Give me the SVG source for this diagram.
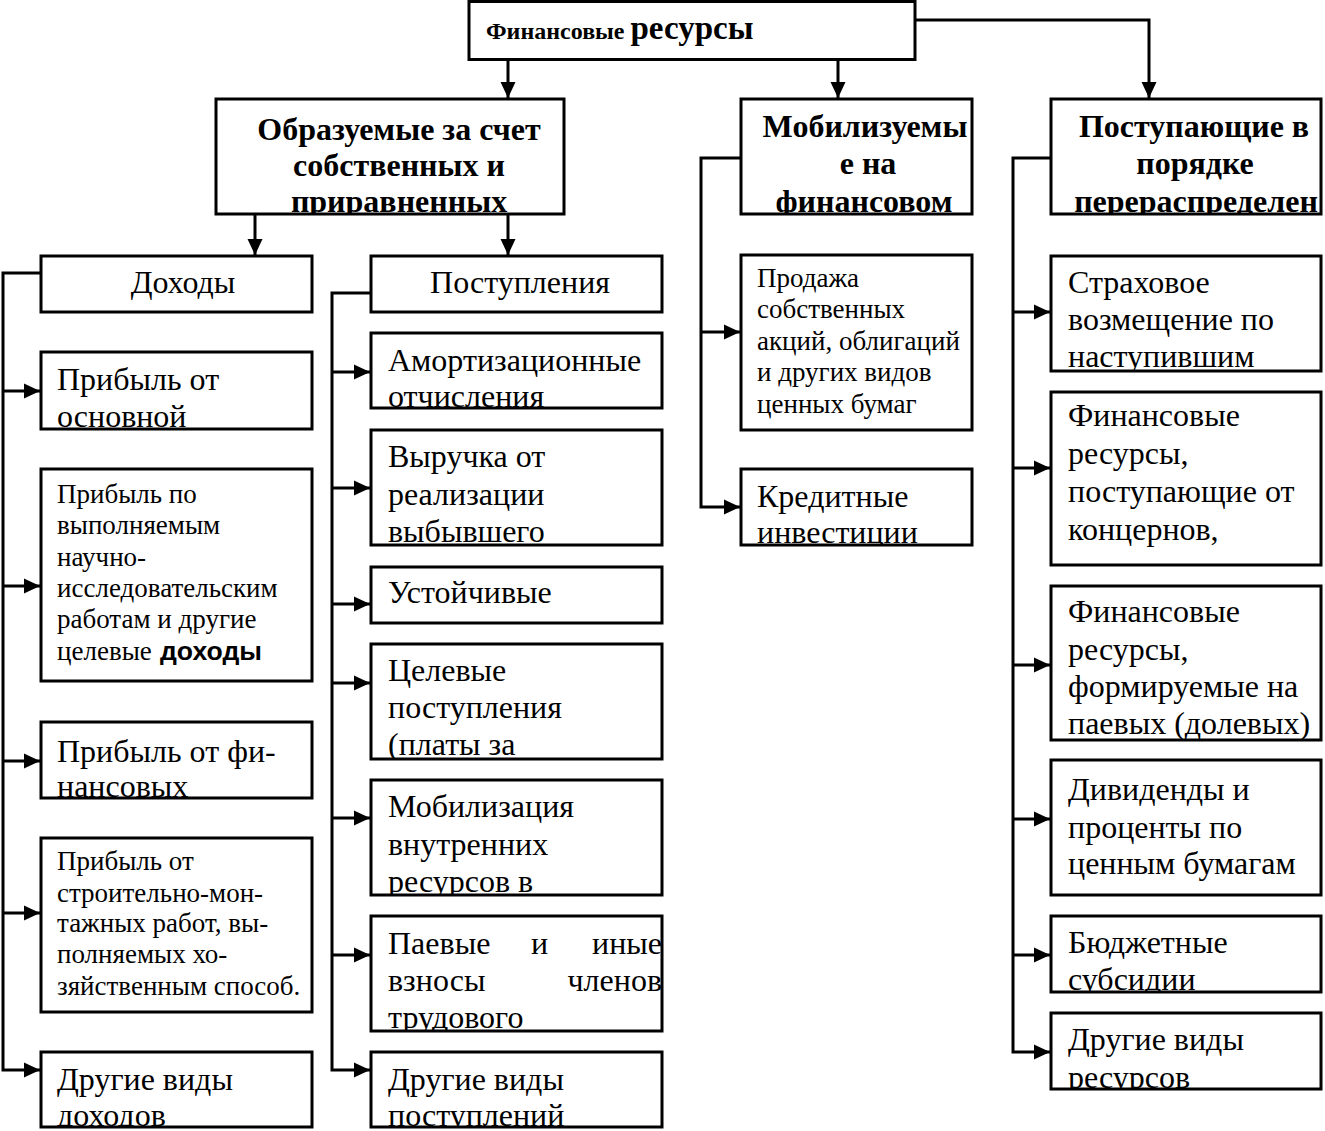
<svg xmlns="http://www.w3.org/2000/svg" width="1325" height="1131" viewBox="0 0 1325 1131">
<style>
.box{fill:#fff;stroke:#000;stroke-width:3}
.t{font-family:"Liberation Serif","Times New Roman",serif;font-size:32px;fill:#000}
.b{font-weight:bold}
.s{font-size:27px}
.xs{font-size:27px}
.m{text-anchor:middle}
.e{text-anchor:end}
.c{stroke:#000;stroke-width:3;fill:none}
</style>
<defs>
<marker id="ah" markerUnits="userSpaceOnUse" markerWidth="16" markerHeight="16" viewBox="0 0 16 16" refX="16" refY="8" orient="auto"><path d="M0,0.5 L16,8 L0,15.5 z" fill="#000"/></marker>
<clipPath id="cA"><rect x="216" y="99" width="348" height="115"/></clipPath>
<clipPath id="cB"><rect x="741" y="99" width="231" height="115"/></clipPath>
<clipPath id="cC"><rect x="1051" y="99" width="270" height="115"/></clipPath>
<clipPath id="cL1"><rect x="41" y="352" width="271" height="77"/></clipPath>
<clipPath id="cL3"><rect x="41" y="722" width="271" height="76"/></clipPath>
<clipPath id="cL5"><rect x="41" y="1052" width="271" height="75"/></clipPath>
<clipPath id="cM1"><rect x="371" y="333" width="291" height="75"/></clipPath>
<clipPath id="cM2"><rect x="371" y="430" width="291" height="115"/></clipPath>
<clipPath id="cM4"><rect x="371" y="644" width="291" height="115"/></clipPath>
<clipPath id="cM5"><rect x="371" y="780" width="291" height="115"/></clipPath>
<clipPath id="cM6"><rect x="371" y="916" width="291" height="115"/></clipPath>
<clipPath id="cM7"><rect x="371" y="1052" width="291" height="75"/></clipPath>
<clipPath id="cB2"><rect x="741" y="469" width="231" height="76"/></clipPath>
<clipPath id="cR1"><rect x="1051" y="256" width="270" height="115"/></clipPath>
<clipPath id="cR2"><rect x="1051" y="392" width="270" height="173"/></clipPath>
<clipPath id="cR3"><rect x="1051" y="586" width="270" height="154"/></clipPath>
<clipPath id="cR5"><rect x="1051" y="916" width="270" height="76"/></clipPath>
<clipPath id="cR6"><rect x="1051" y="1013" width="270" height="76"/></clipPath>
</defs>
<rect width="1325" height="1131" fill="#fff"/>

<g id="connectors">
<line class="c" x1="508" y1="60" x2="508" y2="98" marker-end="url(#ah)"/>
<line class="c" x1="838" y1="60" x2="838" y2="98" marker-end="url(#ah)"/>
<polyline class="c" points="915,20 1149,20 1149,98" marker-end="url(#ah)"/>
<line class="c" x1="255" y1="214" x2="255" y2="255" marker-end="url(#ah)"/>
<line class="c" x1="508" y1="214" x2="508" y2="255" marker-end="url(#ah)"/>
<polyline class="c" points="41,273 3,273 3,1070 40,1070" marker-end="url(#ah)"/>
<line class="c" x1="3" y1="391" x2="40" y2="391" marker-end="url(#ah)"/>
<line class="c" x1="3" y1="586" x2="40" y2="586" marker-end="url(#ah)"/>
<line class="c" x1="3" y1="761" x2="40" y2="761" marker-end="url(#ah)"/>
<line class="c" x1="3" y1="913" x2="40" y2="913" marker-end="url(#ah)"/>
<polyline class="c" points="371,293 332,293 332,1070 370,1070" marker-end="url(#ah)"/>
<line class="c" x1="332" y1="372" x2="370" y2="372" marker-end="url(#ah)"/>
<line class="c" x1="332" y1="488" x2="370" y2="488" marker-end="url(#ah)"/>
<line class="c" x1="332" y1="604" x2="370" y2="604" marker-end="url(#ah)"/>
<line class="c" x1="332" y1="683" x2="370" y2="683" marker-end="url(#ah)"/>
<line class="c" x1="332" y1="818" x2="370" y2="818" marker-end="url(#ah)"/>
<line class="c" x1="332" y1="955" x2="370" y2="955" marker-end="url(#ah)"/>
<polyline class="c" points="741,158 701,158 701,507 740,507" marker-end="url(#ah)"/>
<line class="c" x1="701" y1="332" x2="740" y2="332" marker-end="url(#ah)"/>
<polyline class="c" points="1051,158 1013,158 1013,1052 1050,1052" marker-end="url(#ah)"/>
<line class="c" x1="1013" y1="312" x2="1050" y2="312" marker-end="url(#ah)"/>
<line class="c" x1="1013" y1="468" x2="1050" y2="468" marker-end="url(#ah)"/>
<line class="c" x1="1013" y1="665" x2="1050" y2="665" marker-end="url(#ah)"/>
<line class="c" x1="1013" y1="819" x2="1050" y2="819" marker-end="url(#ah)"/>
<line class="c" x1="1013" y1="955" x2="1050" y2="955" marker-end="url(#ah)"/>
</g>

<g id="n-top">
<rect class="box" x="469" y="1.5" width="446" height="58"/>
<text class="t b" x="486" y="39"><tspan style="font-size:24px">Финансовые </tspan><tspan style="font-size:33px">ресурсы</tspan></text>
</g>

<g id="n-own">
<rect class="box" x="216" y="99" width="348" height="115"/>
<g clip-path="url(#cA)">
<text class="t b m" x="399" y="140">Образуемые за счет</text>
<text class="t b m" x="399" y="176">собственных и</text>
<text class="t b m" x="399" y="212">приравненных</text>
</g>
</g>

<g id="n-mob">
<rect class="box" x="741" y="99" width="231" height="115"/>
<g clip-path="url(#cB)">
<text class="t b m" x="865" y="137">Мобилизуемы</text>
<text class="t b m" x="868" y="174">е на</text>
<text class="t b m" x="864" y="212">финансовом</text>
</g>
</g>

<g id="n-redis">
<rect class="box" x="1051" y="99" width="270" height="115"/>
<g clip-path="url(#cC)">
<text class="t b m" x="1194" y="137">Поступающие в</text>
<text class="t b m" x="1195" y="174">порядке</text>
<text class="t b m" x="1196" y="212">перераспределен</text>
</g>
</g>

<g id="n-income">
<rect class="box" x="41" y="256" width="271" height="56"/>
<text class="t m" x="183" y="293">Доходы</text>
</g>

<g id="n-receipts">
<rect class="box" x="371" y="256" width="291" height="56"/>
<text class="t m" x="520" y="293">Поступления</text>
</g>

<g id="n-l1">
<rect class="box" x="41" y="352" width="271" height="77"/>
<g clip-path="url(#cL1)">
<text class="t" x="57" y="390">Прибыль от</text>
<text class="t" x="57" y="427">основной</text>
</g>
</g>

<g id="n-l2">
<rect class="box" x="41" y="469" width="271" height="212"/>
<text class="t s" x="57" y="503">Прибыль по</text>
<text class="t s" x="57" y="534">выполняемым</text>
<text class="t s" x="57" y="566">научно-</text>
<text class="t s" x="57" y="597">исследовательским</text>
<text class="t s" x="57" y="628">работам и другие</text>
<text class="t s" x="57" y="660">целевые</text>
<text x="160" y="660" textLength="102" lengthAdjust="spacingAndGlyphs" style="font-family:'Liberation Sans',Arial,sans-serif;font-size:26px;font-weight:bold">доходы</text>
</g>

<g id="n-l3">
<rect class="box" x="41" y="722" width="271" height="76"/>
<g clip-path="url(#cL3)">
<text class="t" x="57" y="762">Прибыль от фи-</text>
<text class="t" x="57" y="797">нансовых</text>
</g>
</g>

<g id="n-l4">
<rect class="box" x="41" y="838" width="271" height="174"/>
<text class="t s" x="57" y="870">Прибыль от</text>
<text class="t s" x="57" y="902">строительно-мон-</text>
<text class="t s" x="57" y="932">тажных работ, вы-</text>
<text class="t s" x="57" y="963">полняемых хо-</text>
<text class="t s" x="57" y="995">зяйственным способ.</text>
</g>

<g id="n-l5">
<rect class="box" x="41" y="1052" width="271" height="75"/>
<g clip-path="url(#cL5)">
<text class="t" x="57" y="1090">Другие виды</text>
<text class="t" x="57" y="1126">доходов</text>
</g>
</g>

<g id="n-m1">
<rect class="box" x="371" y="333" width="291" height="75"/>
<g clip-path="url(#cM1)">
<text class="t" x="388" y="371">Амортизационные</text>
<text class="t" x="388" y="407">отчисления</text>
</g>
</g>

<g id="n-m2">
<rect class="box" x="371" y="430" width="291" height="115"/>
<g clip-path="url(#cM2)">
<text class="t" x="388" y="467">Выручка от</text>
<text class="t" x="388" y="505">реализации</text>
<text class="t" x="388" y="542">выбывшего</text>
</g>
</g>

<g id="n-m3">
<rect class="box" x="371" y="567" width="291" height="56"/>
<text class="t" x="388" y="603">Устойчивые</text>
</g>

<g id="n-m4">
<rect class="box" x="371" y="644" width="291" height="115"/>
<g clip-path="url(#cM4)">
<text class="t" x="388" y="681">Целевые</text>
<text class="t" x="388" y="718">поступления</text>
<text class="t" x="388" y="755">(платы за</text>
</g>
</g>

<g id="n-m5">
<rect class="box" x="371" y="780" width="291" height="115"/>
<g clip-path="url(#cM5)">
<text class="t" x="388" y="817">Мобилизация</text>
<text class="t" x="388" y="855">внутренних</text>
<text class="t" x="388" y="892">ресурсов в</text>
</g>
</g>

<g id="n-m6">
<rect class="box" x="371" y="916" width="291" height="115"/>
<g clip-path="url(#cM6)">
<text class="t" x="388" y="954">Паевые</text>
<text class="t" x="531" y="954">и</text>
<text class="t e" x="662" y="954">иные</text>
<text class="t" x="388" y="991">взносы</text>
<text class="t e" x="662" y="991">членов</text>
<text class="t" x="388" y="1028">трудового</text>
</g>
</g>

<g id="n-m7">
<rect class="box" x="371" y="1052" width="291" height="75"/>
<g clip-path="url(#cM7)">
<text class="t" x="388" y="1090">Другие виды</text>
<text class="t" x="388" y="1126">поступлений</text>
</g>
</g>

<g id="n-b1">
<rect class="box" x="741" y="255" width="231" height="175"/>
<text class="t xs" x="757" y="287">Продажа</text>
<text class="t xs" x="757" y="318">собственных</text>
<text class="t xs" x="757" y="350">акций, облигаций</text>
<text class="t xs" x="757" y="381">и других видов</text>
<text class="t xs" x="757" y="413">ценных бумаг</text>
</g>

<g id="n-b2">
<rect class="box" x="741" y="469" width="231" height="76"/>
<g clip-path="url(#cB2)">
<text class="t" x="757" y="507">Кредитные</text>
<text class="t" x="757" y="543">инвестиции</text>
</g>
</g>

<g id="n-r1">
<rect class="box" x="1051" y="256" width="270" height="115"/>
<g clip-path="url(#cR1)">
<text class="t" x="1068" y="293">Страховое</text>
<text class="t" x="1068" y="330">возмещение по</text>
<text class="t" x="1068" y="367">наступившим</text>
</g>
</g>

<g id="n-r2">
<rect class="box" x="1051" y="392" width="270" height="173"/>
<g clip-path="url(#cR2)">
<text class="t" x="1068" y="426">Финансовые</text>
<text class="t" x="1068" y="464">ресурсы,</text>
<text class="t" x="1068" y="502">поступающие от</text>
<text class="t" x="1068" y="540">концернов,</text>
</g>
</g>

<g id="n-r3">
<rect class="box" x="1051" y="586" width="270" height="154"/>
<g clip-path="url(#cR3)">
<text class="t" x="1068" y="622">Финансовые</text>
<text class="t" x="1068" y="660">ресурсы,</text>
<text class="t" x="1068" y="697">формируемые на</text>
<text class="t" x="1068" y="734">паевых (долевых)</text>
</g>
</g>

<g id="n-r4">
<rect class="box" x="1051" y="760" width="270" height="135"/>
<text class="t" x="1068" y="800">Дивиденды и</text>
<text class="t" x="1068" y="838">проценты по</text>
<text class="t" x="1068" y="874">ценным бумагам</text>
</g>

<g id="n-r5">
<rect class="box" x="1051" y="916" width="270" height="76"/>
<g clip-path="url(#cR5)">
<text class="t" x="1068" y="953">Бюджетные</text>
<text class="t" x="1068" y="990">субсидии</text>
</g>
</g>

<g id="n-r6">
<rect class="box" x="1051" y="1013" width="270" height="76"/>
<g clip-path="url(#cR6)">
<text class="t" x="1068" y="1050">Другие виды</text>
<text class="t" x="1068" y="1088">ресурсов</text>
</g>
</g>
</svg>
